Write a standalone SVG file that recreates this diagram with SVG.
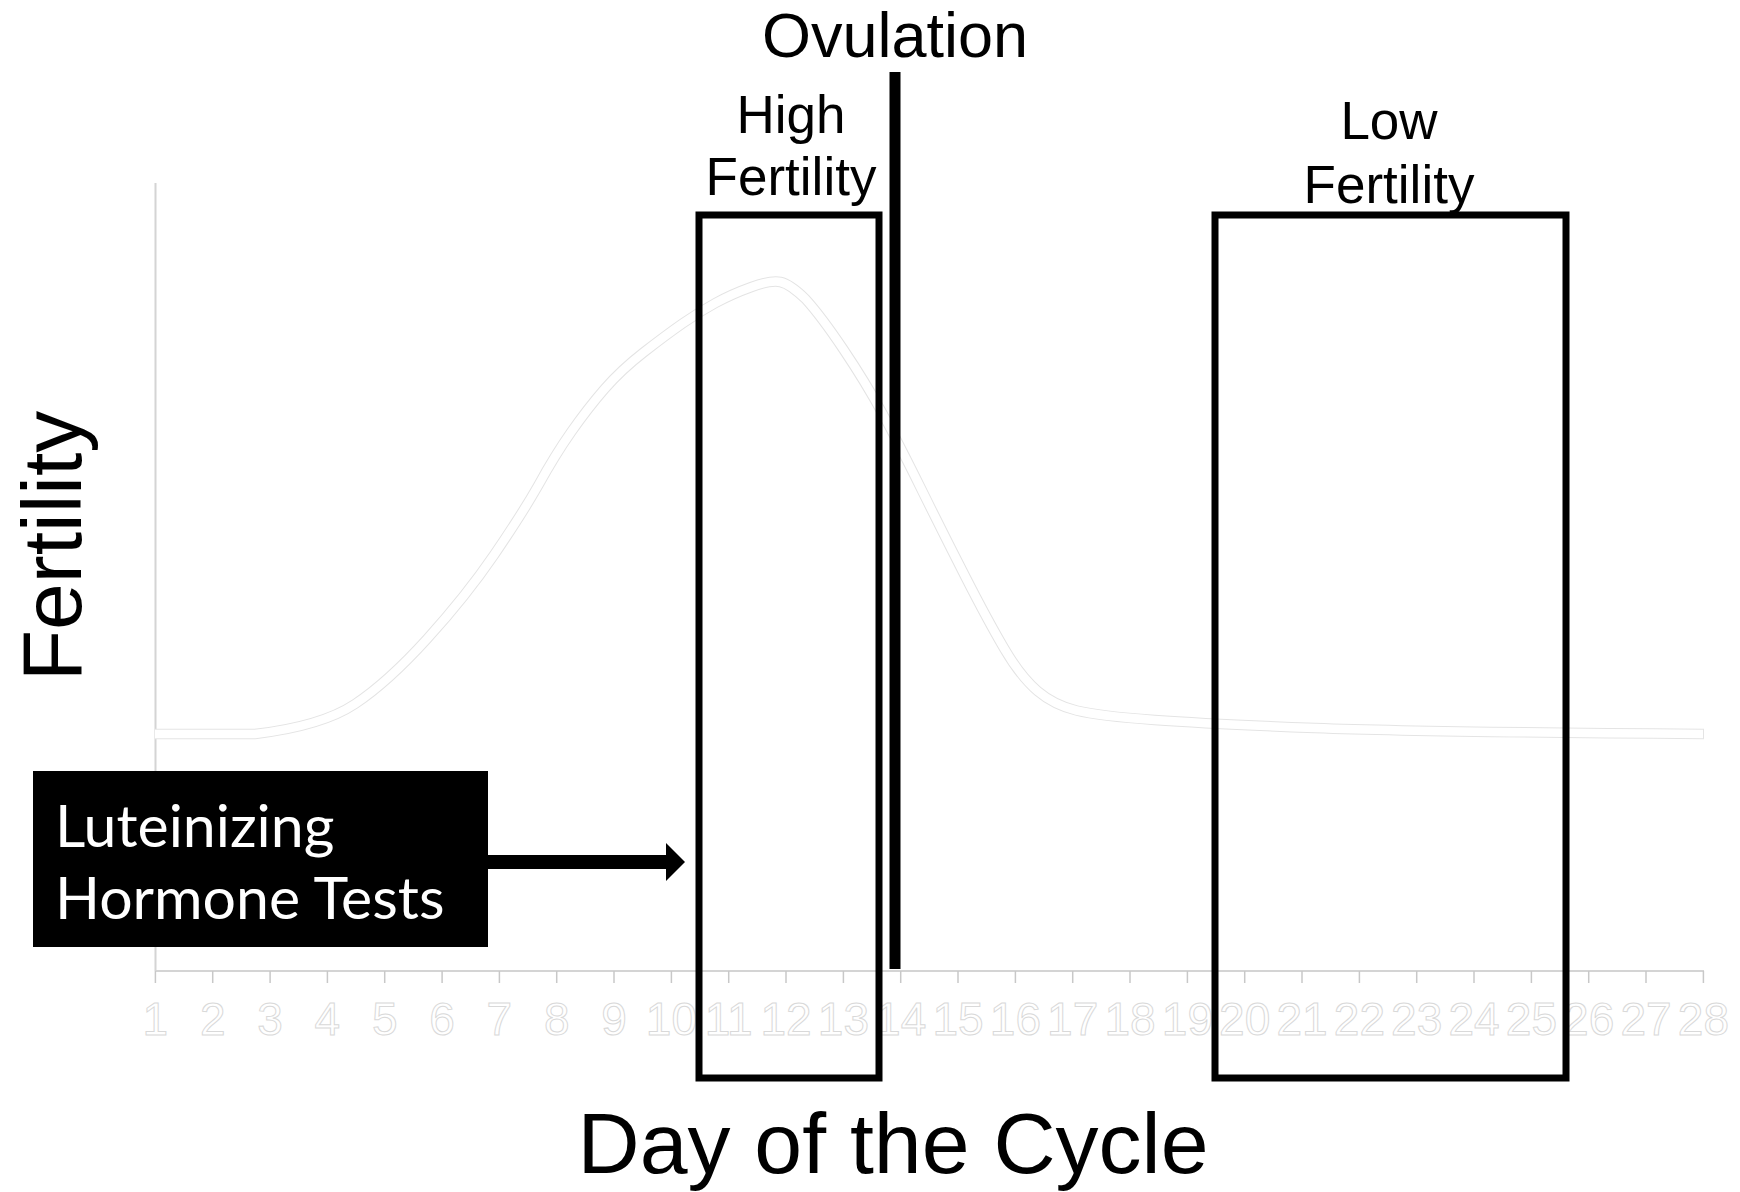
<svg xmlns="http://www.w3.org/2000/svg" width="1740" height="1192" viewBox="0 0 1740 1192">
<style>
.ax{stroke:#d4d4d4;stroke-width:2;fill:none}
.tk{stroke:#c8c8c8;stroke-width:1.5}
.tl{font-family:"Liberation Sans",Arial,sans-serif;font-size:46px;fill:#fff;stroke:#d9d9d9;stroke-width:1;text-anchor:middle}
.lbl{font-family:"Liberation Sans",Arial,sans-serif;fill:#000;text-anchor:middle}
.box{fill:none;stroke:#000;stroke-width:7}
.lh{font-family:Lato,"Open Sans",sans-serif;font-size:59px;fill:#fff}
</style>
<rect width="1740" height="1192" fill="#fff"/>
<g id="axes">
<line class="ax" x1="155.5" y1="183" x2="155.5" y2="971"/>
<line class="ax" x1="155" y1="971" x2="1704" y2="971"/>
<g id="ticks">
<line class="tk" x1="155.4" y1="971" x2="155.4" y2="983"/><line class="tk" x1="212.7" y1="971" x2="212.7" y2="983"/><line class="tk" x1="270.1" y1="971" x2="270.1" y2="983"/><line class="tk" x1="327.4" y1="971" x2="327.4" y2="983"/><line class="tk" x1="384.7" y1="971" x2="384.7" y2="983"/><line class="tk" x1="442.1" y1="971" x2="442.1" y2="983"/><line class="tk" x1="499.4" y1="971" x2="499.4" y2="983"/><line class="tk" x1="556.7" y1="971" x2="556.7" y2="983"/><line class="tk" x1="614.0" y1="971" x2="614.0" y2="983"/><line class="tk" x1="671.4" y1="971" x2="671.4" y2="983"/><line class="tk" x1="728.7" y1="971" x2="728.7" y2="983"/><line class="tk" x1="786.0" y1="971" x2="786.0" y2="983"/><line class="tk" x1="843.4" y1="971" x2="843.4" y2="983"/><line class="tk" x1="900.7" y1="971" x2="900.7" y2="983"/><line class="tk" x1="958.0" y1="971" x2="958.0" y2="983"/><line class="tk" x1="1015.4" y1="971" x2="1015.4" y2="983"/><line class="tk" x1="1072.7" y1="971" x2="1072.7" y2="983"/><line class="tk" x1="1130.0" y1="971" x2="1130.0" y2="983"/><line class="tk" x1="1187.4" y1="971" x2="1187.4" y2="983"/><line class="tk" x1="1244.7" y1="971" x2="1244.7" y2="983"/><line class="tk" x1="1302.0" y1="971" x2="1302.0" y2="983"/><line class="tk" x1="1359.4" y1="971" x2="1359.4" y2="983"/><line class="tk" x1="1416.7" y1="971" x2="1416.7" y2="983"/><line class="tk" x1="1474.0" y1="971" x2="1474.0" y2="983"/><line class="tk" x1="1531.4" y1="971" x2="1531.4" y2="983"/><line class="tk" x1="1588.7" y1="971" x2="1588.7" y2="983"/><line class="tk" x1="1646.0" y1="971" x2="1646.0" y2="983"/><line class="tk" x1="1703.4" y1="971" x2="1703.4" y2="983"/>
</g>
<g id="tick-labels">
<text class="tl" x="155.4" y="1035">1</text><text class="tl" x="212.7" y="1035">2</text><text class="tl" x="270.1" y="1035">3</text><text class="tl" x="327.4" y="1035">4</text><text class="tl" x="384.7" y="1035">5</text><text class="tl" x="442.1" y="1035">6</text><text class="tl" x="499.4" y="1035">7</text><text class="tl" x="556.7" y="1035">8</text><text class="tl" x="614.0" y="1035">9</text><text class="tl" x="671.4" y="1035">10</text><text class="tl" x="728.7" y="1035">11</text><text class="tl" x="786.0" y="1035">12</text><text class="tl" x="843.4" y="1035">13</text><text class="tl" x="900.7" y="1035">14</text><text class="tl" x="958.0" y="1035">15</text><text class="tl" x="1015.4" y="1035">16</text><text class="tl" x="1072.7" y="1035">17</text><text class="tl" x="1130.0" y="1035">18</text><text class="tl" x="1187.4" y="1035">19</text><text class="tl" x="1244.7" y="1035">20</text><text class="tl" x="1302.0" y="1035">21</text><text class="tl" x="1359.4" y="1035">22</text><text class="tl" x="1416.7" y="1035">23</text><text class="tl" x="1474.0" y="1035">24</text><text class="tl" x="1531.4" y="1035">25</text><text class="tl" x="1588.7" y="1035">26</text><text class="tl" x="1646.0" y="1035">27</text><text class="tl" x="1703.4" y="1035">28</text>
</g>
<text class="lbl" x="893" y="1173" font-size="86">Day of the Cycle</text>
<text class="lbl" transform="translate(81,546) rotate(-90)" font-size="84">Fertility</text>
</g>
<g id="curve">
<path d="M155,734 L255,734 Q322,726 355,704 Q388,682 427,639 Q466,596 494,555 Q522,514 538.5,485 Q555,455 571.5,431.5 Q588,408 604.5,389 Q621,370 643.5,352.5 Q666,335 682.5,323.5 Q699,312 715.5,303 Q732,294 751.5,287 Q771,280 780.5,282 Q790,284 805.5,299 Q821,316 843.5,349.5 Q866,383 882.5,413.5 Q899,444 921,488.5 Q943,533 965.5,577 Q988,621 1004.5,649 Q1021,677 1037.5,691 Q1054,705 1076.5,710.5 Q1099,716 1154.5,720 Q1210,724 1315,728 Q1420,732 1704,734" fill="none" stroke="#e4e4e4" stroke-width="10.5"/>
<path d="M155,734 L255,734 Q322,726 355,704 Q388,682 427,639 Q466,596 494,555 Q522,514 538.5,485 Q555,455 571.5,431.5 Q588,408 604.5,389 Q621,370 643.5,352.5 Q666,335 682.5,323.5 Q699,312 715.5,303 Q732,294 751.5,287 Q771,280 780.5,282 Q790,284 805.5,299 Q821,316 843.5,349.5 Q866,383 882.5,413.5 Q899,444 921,488.5 Q943,533 965.5,577 Q988,621 1004.5,649 Q1021,677 1037.5,691 Q1054,705 1076.5,710.5 Q1099,716 1154.5,720 Q1210,724 1315,728 Q1420,732 1703,734" fill="none" stroke="#fff" stroke-width="8.5"/>
</g>
<g id="high-fertility">
<rect class="box" x="699" y="215" width="180" height="863"/>
<text class="lbl" x="791" y="133" font-size="53">High</text>
<text class="lbl" x="791" y="195" font-size="53">Fertility</text>
</g>
<g id="low-fertility">
<rect class="box" x="1215" y="215" width="351" height="863"/>
<text class="lbl" x="1389" y="139" font-size="53">Low</text>
<text class="lbl" x="1389" y="203" font-size="53">Fertility</text>
</g>
<g id="ovulation">
<line x1="895" y1="72" x2="895" y2="969" stroke="#000" stroke-width="11"/>
<text class="lbl" x="895" y="57" font-size="63">Ovulation</text>
</g>
<g id="lh-tests">
<rect x="33" y="771" width="455" height="176" fill="#000"/>
<text class="lh" x="55" y="847">Luteinizing</text>
<text class="lh" x="55" y="919">Hormone Tests</text>
</g>
<g id="connectors">
<polygon points="488,855 666,855 666,843 685,862 666,881 666,869 488,869" fill="#000"/>
</g>
</svg>
